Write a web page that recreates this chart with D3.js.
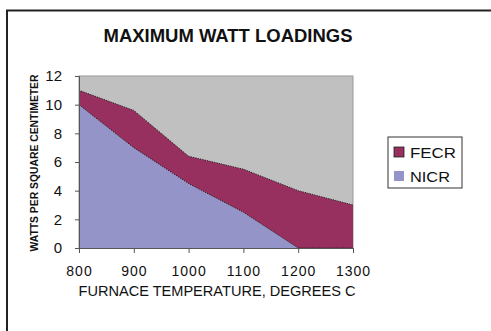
<!DOCTYPE html>
<html>
<head>
<meta charset="utf-8">
<script src="https://cdn.jsdelivr.net/npm/d3@7"></script>
<style>
  body { margin: 0; background: #fff; }
  text { font-family: "Liberation Sans", Arial, sans-serif; fill: #111; }
</style>
</head>
<body>
<div id="chart"></div>
<script>
// Chart values
const temperatures = [800, 900, 1000, 1100, 1200, 1300];
const nicr = [10, 7, 4.5, 2.5, 0, 0];
const fecr = [1, 2.6, 1.9, 3, 4, 3];
const seriesNames = ['NICR', 'FECR'];
const seriesColors = {NICR: '#9494c8', FECR: '#98305f'};
const yTicks = [0, 2, 4, 6, 8, 10, 12];

const width = 491;
const height = 331;
const plot = {left: 79, right: 353, top: 76, bottom: 248};

const rows = temperatures.map((t, i) => ({t, NICR: nicr[i], FECR: fecr[i]}));
const stacked = d3.stack().keys(seriesNames)(rows);

const svg = d3.select('#chart')
  .append('svg')
  .attr('width', width)
  .attr('height', height);

// outer frame (only top and left visible in the crop)
svg.append('path')
  .attr('d', `M7,${height}V10.5H${width}`)
  .attr('fill', 'none')
  .attr('stroke', '#222')
  .attr('stroke-width', 2);

const x = d3.scalePoint()
  .domain(temperatures)
  .range([plot.left, plot.right]);

const y = d3.scaleLinear()
  .domain([0, 12])
  .range([plot.bottom, plot.top]);

// plot area background
svg.append('rect')
  .attr('x', plot.left)
  .attr('y', plot.top)
  .attr('width', plot.right - plot.left)
  .attr('height', plot.bottom - plot.top)
  .attr('fill', '#c0c0c0')
  .attr('stroke', '#9a9a9a')
  .attr('stroke-width', 1);

const area = d3.area()
  .x(d => x(d.data.t))
  .y0(d => y(d[0]))
  .y1(d => y(d[1]));

const topLine = d3.line()
  .x(d => x(d.data.t))
  .y(d => y(d[1]));

svg.append('g')
  .selectAll('path')
  .data(stacked)
  .enter()
  .append('path')
  .attr('d', area)
  .attr('fill', d => seriesColors[d.key]);

svg.append('g')
  .selectAll('path')
  .data(stacked)
  .enter()
  .append('path')
  .attr('d', topLine)
  .attr('fill', 'none')
  .attr('stroke', '#111')
  .attr('stroke-width', 0.9)
  .attr('stroke-dasharray', '1.2,1.2');

// axes
const yAxis = svg.append('g')
  .attr('transform', `translate(${plot.left},0)`)
  .call(d3.axisLeft(y).tickValues(yTicks).tickSize(4).tickPadding(13));

const xAxis = svg.append('g')
  .attr('transform', `translate(0,${plot.bottom})`)
  .call(d3.axisBottom(x).tickSize(5).tickPadding(13));

[yAxis, xAxis].forEach(g => {
  g.select('.domain').attr('stroke', '#555');
  g.selectAll('.tick line').attr('stroke', '#555');
  g.selectAll('.tick text')
    .style('font-family', '"Liberation Sans", Arial, sans-serif')
    .attr('fill', '#111');
});
yAxis.selectAll('.tick text').style('font-size', '15px');
xAxis.selectAll('.tick text')
  .style('font-size', '14px')
  .style('letter-spacing', '1px');

// title
svg.append('text')
  .attr('x', 228)
  .attr('y', 42)
  .attr('text-anchor', 'middle')
  .style('font-size', '18px')
  .style('font-weight', 'bold')
  .attr('textLength', 249)
  .attr('lengthAdjust', 'spacingAndGlyphs')
  .text('MAXIMUM WATT LOADINGS');

// x axis title
svg.append('text')
  .attr('x', 217)
  .attr('y', 296)
  .attr('text-anchor', 'middle')
  .style('font-size', '14.5px')
  .attr('textLength', 277)
  .attr('lengthAdjust', 'spacingAndGlyphs')
  .text('FURNACE TEMPERATURE, DEGREES C');

// y axis title
svg.append('text')
  .attr('transform', 'translate(38,163) rotate(-90)')
  .attr('text-anchor', 'middle')
  .style('font-size', '11px')
  .style('font-weight', 'bold')
  .attr('textLength', 177)
  .attr('lengthAdjust', 'spacingAndGlyphs')
  .text('WATTS PER SQUARE CENTIMETER');

// legend
const legend = svg.append('g').attr('transform', 'translate(388,137)');
legend.append('rect')
  .attr('width', 74)
  .attr('height', 51)
  .attr('fill', '#fff')
  .attr('stroke', '#333')
  .attr('stroke-width', 1);

const legendItems = legend.selectAll('.item')
  .data(['FECR', 'NICR'])
  .enter()
  .append('g')
  .attr('class', 'item')
  .attr('transform', (d, i) => `translate(6,${10 + i * 24})`);

legendItems.append('rect')
  .attr('width', 10)
  .attr('height', 10)
  .attr('fill', d => seriesColors[d])
  .attr('stroke', d => d === 'FECR' ? '#222' : 'none')
  .attr('stroke-width', 0.8);

legendItems.append('text')
  .attr('x', 16)
  .attr('y', 10.5)
  .style('font-size', '15px')
  .attr('textLength', d => d === 'FECR' ? 46 : 40)
  .attr('lengthAdjust', 'spacingAndGlyphs')
  .text(d => d);
</script>
</body>
</html>
